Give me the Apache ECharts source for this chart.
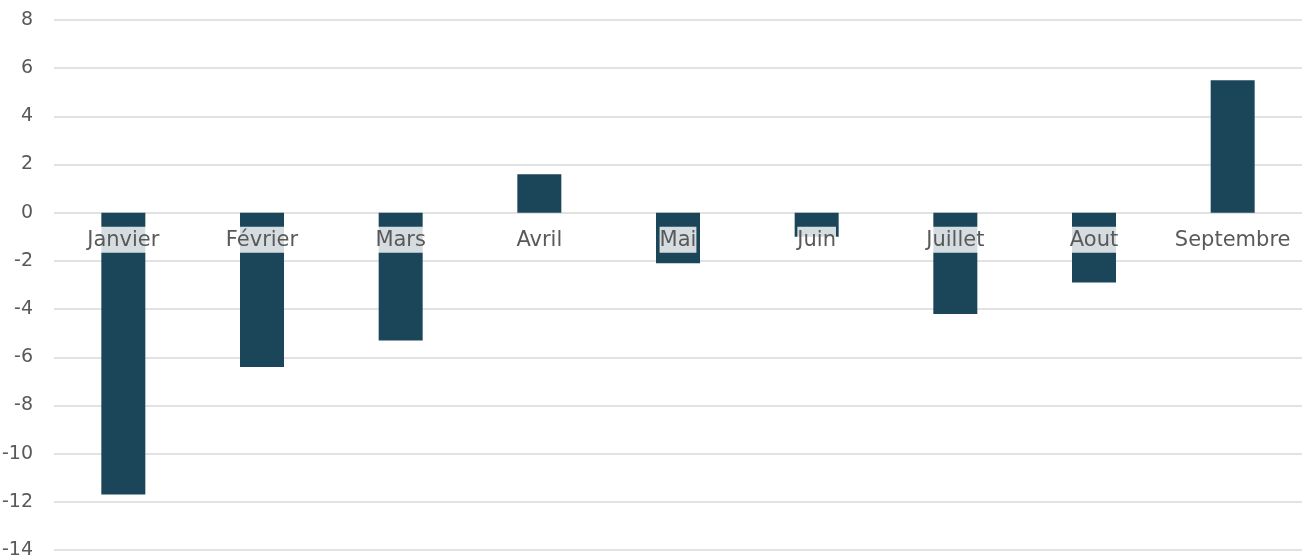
<!DOCTYPE html>
<html><head><meta charset="utf-8">
<script src="https://cdn.jsdelivr.net/npm/echarts@6/dist/echarts.min.js"></script>
<style>html,body{margin:0;padding:0;background:#fff}#c{width:1309px;height:560px}</style>
</head><body><div id="c"></div>
<script>
const categories = ["Janvier","Février","Mars","Avril","Mai","Juin","Juillet","Aout","Septembre"];
const values = [-11.7,-6.4,-5.3,1.6,-2.1,-1.0,-4.2,-2.9,5.5];
const yMin = -14, yMax = 8, yStep = 2;

const gridTop = 20, gridBottom = 10, H = 560;
const plotH = H - gridTop - gridBottom;
const zeroOffset = -(plotH * (0 - yMin) / (yMax - yMin));

const chart = echarts.init(document.getElementById('c'), null, {renderer:'canvas'});
chart.setOption({
  animation:false,
  grid:{left:54,right:7,top:gridTop,bottom:gridBottom,containLabel:false,outerBoundsMode:'none'},
  xAxis:{
    type:'category', data:categories, z:10, offset:zeroOffset,
    axisLine:{show:false,onZero:false},
    axisTick:{show:false},
    axisLabel:{
      interval:0, hideOverlap:false,
      fontFamily:'DejaVu Sans', fontSize:21, color:'#595959', margin:14,
      backgroundColor:'rgba(255,255,255,0.82)', padding:[4,0,2,0], lineHeight:20
    }
  },
  yAxis:{
    type:'value', min:yMin, max:yMax, interval:yStep,
    axisLine:{show:false}, axisTick:{show:false},
    axisLabel:{fontFamily:'DejaVu Sans', fontSize:19, color:'#595959', margin:21},
    splitLine:{lineStyle:{color:'#d9d9d9',width:1.5}}
  },
  series:[{
    type:'bar', data:values, barWidth:44,
    itemStyle:{color:'#1b4659'}
  }]
});
</script></body></html>
